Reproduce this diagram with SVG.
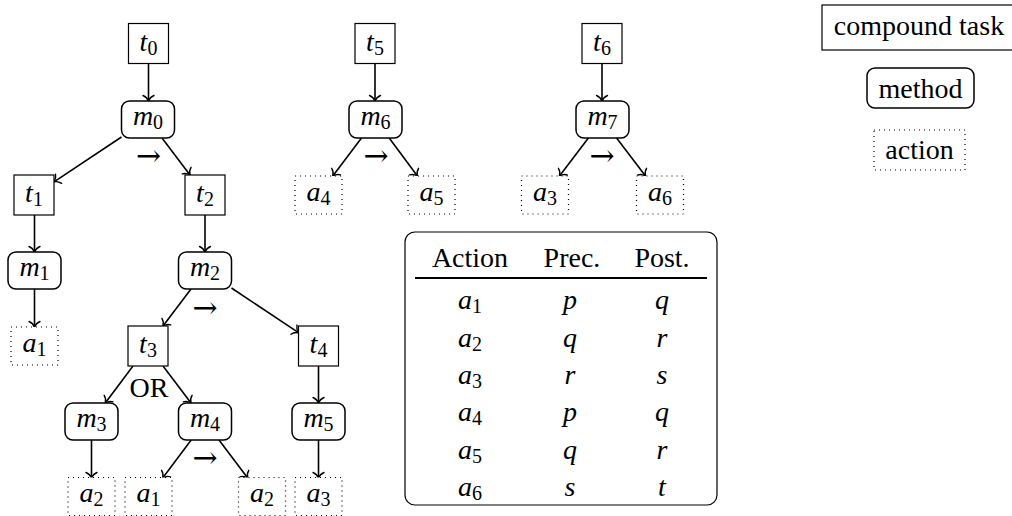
<svg xmlns="http://www.w3.org/2000/svg" width="1012" height="516" viewBox="0 0 1012 516" font-family="Times New Roman, Liberation Serif, serif">
  <defs>
    <marker id="arr" viewBox="-8 -7 10 14" refX="0" refY="0" markerWidth="10" markerHeight="14" markerUnits="userSpaceOnUse" orient="auto" overflow="visible">
      <path d="M-5.5,-5.5 C-4.2,-2.2 -1.2,-0.5 0,0 C-1.2,0.5 -4.2,2.2 -5.5,5.5" fill="none" stroke="#000" stroke-width="1.4" stroke-linecap="round"/>
    </marker>
    <!-- node outlines -->
    <rect id="taskBox" width="40" height="40" fill="#fff" stroke="#000" stroke-width="1.2"/>
    <rect id="methBox" width="53" height="37" rx="8" fill="#fff" stroke="#000" stroke-width="1.5"/>
    <rect id="actBox" width="47" height="38" fill="#fff" stroke="#000" stroke-width="1.2" stroke-dasharray="1 4"/>
  </defs>

  <!-- connectors -->
  <g id="connectors" fill="none" stroke="#000" stroke-width="1.6" marker-end="url(#arr)">
    <line x1="148.5" y1="63.5" x2="148.5" y2="101"/>
    <line x1="121.5" y1="137" x2="54" y2="181.8"/>
    <line x1="162" y1="138" x2="190" y2="175"/>
    <line x1="34.5" y1="215" x2="34.5" y2="252"/>
    <line x1="34.5" y1="289" x2="34.5" y2="327"/>
    <line x1="205" y1="215" x2="205" y2="252"/>
    <line x1="191" y1="289" x2="163" y2="326"/>
    <line x1="231.5" y1="288" x2="298.5" y2="332.7"/>
    <line x1="133" y1="366" x2="105.3" y2="403"/>
    <line x1="163" y1="366" x2="191" y2="403"/>
    <line x1="318.5" y1="366" x2="318.5" y2="403"/>
    <line x1="91.5" y1="440" x2="91.5" y2="478"/>
    <line x1="191.2" y1="440" x2="162.7" y2="478"/>
    <line x1="219" y1="440" x2="247.7" y2="478"/>
    <line x1="318.5" y1="440" x2="318.5" y2="478"/>
    <line x1="375" y1="63.5" x2="375" y2="101"/>
    <line x1="361.5" y1="138" x2="332.8" y2="176"/>
    <line x1="389.2" y1="138" x2="417.4" y2="176"/>
    <line x1="602" y1="63.5" x2="602" y2="101"/>
    <line x1="588.4" y1="138" x2="559.5" y2="176"/>
    <line x1="616.6" y1="138" x2="645.5" y2="176"/>
  </g>

  <g font-size="28" text-anchor="middle" fill="#000">
  <!-- ordering and choice labels -->
  <g id="labels">
    <text x="148.5" y="165.5" font-family="DejaVu Serif" font-size="30">→</text>
    <text x="205" y="317.5" font-family="DejaVu Serif" font-size="30">→</text>
    <text x="205" y="467.5" font-family="DejaVu Serif" font-size="30">→</text>
    <text x="376" y="165.5" font-family="DejaVu Serif" font-size="30">→</text>
    <text x="602" y="165.5" font-family="DejaVu Serif" font-size="30">→</text>
    <text x="149" y="397">OR</text>
  </g>

  <!-- compound tasks -->
  <g id="t0"><use href="#taskBox" x="128.5" y="23.5"/><text x="148.5" y="50.5"><tspan font-style="italic">t</tspan><tspan font-size="20" dy="4">0</tspan></text></g>
  <g id="t5"><use href="#taskBox" x="355" y="23.5"/><text x="375" y="50.5"><tspan font-style="italic">t</tspan><tspan font-size="20" dy="4">5</tspan></text></g>
  <g id="t6"><use href="#taskBox" x="582" y="23.5"/><text x="602" y="50.5"><tspan font-style="italic">t</tspan><tspan font-size="20" dy="4">6</tspan></text></g>
  <g id="t1"><use href="#taskBox" x="14" y="175"/><text x="34" y="202"><tspan font-style="italic">t</tspan><tspan font-size="20" dy="4">1</tspan></text></g>
  <g id="t2"><use href="#taskBox" x="185" y="175"/><text x="205" y="202"><tspan font-style="italic">t</tspan><tspan font-size="20" dy="4">2</tspan></text></g>
  <g id="t3"><use href="#taskBox" x="128" y="326"/><text x="148" y="353"><tspan font-style="italic">t</tspan><tspan font-size="20" dy="4">3</tspan></text></g>
  <g id="t4"><use href="#taskBox" x="298.5" y="326"/><text x="318.5" y="353"><tspan font-style="italic">t</tspan><tspan font-size="20" dy="4">4</tspan></text></g>

  <!-- methods -->
  <g id="m0"><use href="#methBox" x="121.5" y="101"/><text x="148" y="125"><tspan font-style="italic">m</tspan><tspan font-size="20" dy="4">0</tspan></text></g>
  <g id="m6"><use href="#methBox" x="349" y="101"/><text x="375.5" y="125"><tspan font-style="italic">m</tspan><tspan font-size="20" dy="4">6</tspan></text></g>
  <g id="m7"><use href="#methBox" x="576" y="101"/><text x="602.5" y="125"><tspan font-style="italic">m</tspan><tspan font-size="20" dy="4">7</tspan></text></g>
  <g id="m1"><use href="#methBox" x="8" y="252"/><text x="34.5" y="276"><tspan font-style="italic">m</tspan><tspan font-size="20" dy="4">1</tspan></text></g>
  <g id="m2"><use href="#methBox" x="178.5" y="252"/><text x="205" y="276"><tspan font-style="italic">m</tspan><tspan font-size="20" dy="4">2</tspan></text></g>
  <g id="m3"><use href="#methBox" x="65" y="403"/><text x="91.5" y="427"><tspan font-style="italic">m</tspan><tspan font-size="20" dy="4">3</tspan></text></g>
  <g id="m4"><use href="#methBox" x="178.5" y="403"/><text x="205" y="427"><tspan font-style="italic">m</tspan><tspan font-size="20" dy="4">4</tspan></text></g>
  <g id="m5"><use href="#methBox" x="292" y="403"/><text x="318.5" y="427"><tspan font-style="italic">m</tspan><tspan font-size="20" dy="4">5</tspan></text></g>

  <!-- actions -->
  <g id="a4"><use href="#actBox" x="295" y="176"/><text x="318.5" y="200.5"><tspan font-style="italic">a</tspan><tspan font-size="20" dy="4">4</tspan></text></g>
  <g id="a5"><use href="#actBox" x="408" y="176"/><text x="431.5" y="200.5"><tspan font-style="italic">a</tspan><tspan font-size="20" dy="4">5</tspan></text></g>
  <g id="a3-t6"><use href="#actBox" x="521.5" y="176"/><text x="545" y="200.5"><tspan font-style="italic">a</tspan><tspan font-size="20" dy="4">3</tspan></text></g>
  <g id="a6"><use href="#actBox" x="636.5" y="176"/><text x="660" y="200.5"><tspan font-style="italic">a</tspan><tspan font-size="20" dy="4">6</tspan></text></g>
  <g id="a1-m1"><use href="#actBox" x="11" y="327"/><text x="34.5" y="351.5"><tspan font-style="italic">a</tspan><tspan font-size="20" dy="4">1</tspan></text></g>
  <g id="a2-m3"><use href="#actBox" x="68" y="477.5"/><text x="91.5" y="502"><tspan font-style="italic">a</tspan><tspan font-size="20" dy="4">2</tspan></text></g>
  <g id="a1-m4"><use href="#actBox" x="125" y="477.5"/><text x="148.5" y="502"><tspan font-style="italic">a</tspan><tspan font-size="20" dy="4">1</tspan></text></g>
  <g id="a2-m4"><use href="#actBox" x="238.5" y="477.5"/><text x="262" y="502"><tspan font-style="italic">a</tspan><tspan font-size="20" dy="4">2</tspan></text></g>
  <g id="a3-m5"><use href="#actBox" x="295" y="477.5"/><text x="318.5" y="502"><tspan font-style="italic">a</tspan><tspan font-size="20" dy="4">3</tspan></text></g>

  <!-- action table -->
  <g id="table">
    <rect x="405" y="232" width="312" height="273" rx="10" fill="#fff" stroke="#000" stroke-width="1.2"/>
    <text x="470" y="267">Action</text>
    <text x="572" y="267">Prec.</text>
    <text x="662" y="267">Post.</text>
    <line x1="415" y1="278" x2="707" y2="278" stroke="#000" stroke-width="2"/>
    <text x="470" y="309"><tspan font-style="italic">a</tspan><tspan font-size="20" dy="4">1</tspan></text>
    <text x="570" y="309" font-style="italic">p</text>
    <text x="662" y="309" font-style="italic">q</text>
    <text x="470" y="346.5"><tspan font-style="italic">a</tspan><tspan font-size="20" dy="4">2</tspan></text>
    <text x="570" y="346.5" font-style="italic">q</text>
    <text x="662" y="346.5" font-style="italic">r</text>
    <text x="470" y="384"><tspan font-style="italic">a</tspan><tspan font-size="20" dy="4">3</tspan></text>
    <text x="570" y="384" font-style="italic">r</text>
    <text x="662" y="384" font-style="italic">s</text>
    <text x="470" y="421"><tspan font-style="italic">a</tspan><tspan font-size="20" dy="4">4</tspan></text>
    <text x="570" y="421" font-style="italic">p</text>
    <text x="662" y="421" font-style="italic">q</text>
    <text x="470" y="458.5"><tspan font-style="italic">a</tspan><tspan font-size="20" dy="4">5</tspan></text>
    <text x="570" y="458.5" font-style="italic">q</text>
    <text x="662" y="458.5" font-style="italic">r</text>
    <text x="470" y="496"><tspan font-style="italic">a</tspan><tspan font-size="20" dy="4">6</tspan></text>
    <text x="570" y="496" font-style="italic">s</text>
    <text x="662" y="496" font-style="italic">t</text>
  </g>

  <!-- legend -->
  <g id="legend-task"><rect x="822" y="5" width="192" height="45" fill="#fff" stroke="#000" stroke-width="1.2"/><text x="919" y="35">compound task</text></g>
  <g id="legend-method"><rect x="867" y="68" width="107" height="40" rx="8" fill="#fff" stroke="#000" stroke-width="1.5"/><text x="920.5" y="97.5">method</text></g>
  <g id="legend-action"><rect x="874" y="130" width="91" height="40" fill="#fff" stroke="#000" stroke-width="1.2" stroke-dasharray="1 4"/><text x="919.5" y="159">action</text></g>
  </g>
</svg>
